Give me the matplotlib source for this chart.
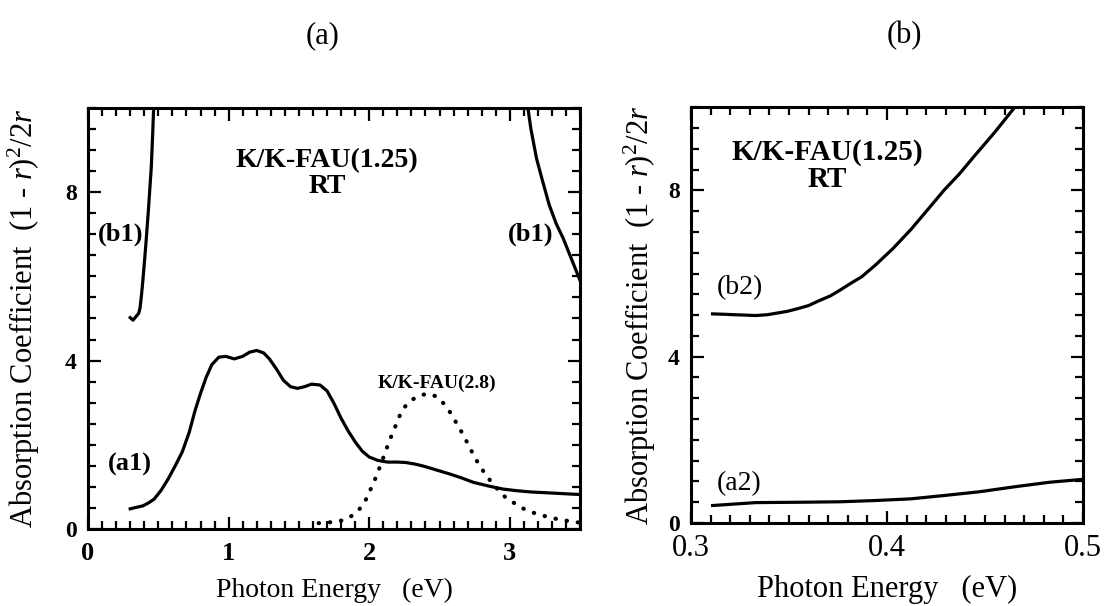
import matplotlib
matplotlib.use("Agg")
import matplotlib.pyplot as plt
from matplotlib.ticker import MultipleLocator

plt.rcParams['font.family'] = ['Liberation Serif', 'DejaVu Serif']
plt.rcParams['mathtext.fontset'] = 'custom'
plt.rcParams['mathtext.rm'] = 'Liberation Serif'
plt.rcParams['mathtext.it'] = 'Liberation Serif:italic'
plt.rcParams['mathtext.bf'] = 'Liberation Serif:bold'

# (a) K/K-FAU(1.25) at RT, wide energy range
a1_energy = [0.30, 0.35, 0.39, 0.43, 0.47, 0.52, 0.57, 0.62, 0.67, 0.72, 0.76, 0.80, 0.84,
             0.88, 0.93, 0.98, 1.04, 1.10, 1.15, 1.20, 1.25, 1.29, 1.34, 1.39, 1.44, 1.49,
             1.54, 1.59, 1.65, 1.70, 1.75, 1.80, 1.85, 1.90, 1.95, 2.00, 2.06, 2.13, 2.20,
             2.26, 2.33, 2.39, 2.48, 2.57, 2.66, 2.74, 2.85, 2.95, 3.05, 3.15, 3.27, 3.38, 3.50]
a1_coef = [0.48, 0.52, 0.55, 0.62, 0.71, 0.92, 1.19, 1.50, 1.83, 2.30, 2.80, 3.22, 3.60,
           3.90, 4.08, 4.10, 4.04, 4.10, 4.20, 4.24, 4.18, 4.04, 3.80, 3.53, 3.38, 3.34,
           3.38, 3.44, 3.42, 3.28, 2.98, 2.63, 2.33, 2.07, 1.85, 1.71, 1.63, 1.59, 1.59,
           1.58, 1.54, 1.49, 1.40, 1.31, 1.21, 1.11, 1.02, 0.95, 0.91, 0.88, 0.86, 0.84, 0.82]

b1_low_energy = [0.30, 0.32, 0.34, 0.36, 0.37, 0.38, 0.39, 0.40, 0.41, 0.42, 0.43, 0.44,
                 0.45, 0.46, 0.47]
b1_low_coef = [5.02, 4.96, 5.04, 5.12, 5.25, 5.55, 5.90, 6.30, 6.70, 7.15, 7.60, 8.10,
               8.60, 9.40, 10.3]

b1_high_energy = [3.12, 3.15, 3.19, 3.23, 3.28, 3.33, 3.38, 3.44, 3.50]
b1_high_coef = [10.2, 9.5, 8.8, 8.3, 7.7, 7.25, 6.9, 6.4, 5.9]

ref_energy = [1.64, 1.72, 1.82, 1.88, 1.93, 1.97, 2.00, 2.04, 2.08, 2.12, 2.16, 2.20, 2.23,
              2.27, 2.31, 2.36, 2.41, 2.45, 2.49, 2.53, 2.57, 2.62, 2.67, 2.72, 2.77, 2.82,
              2.87, 2.92, 2.97, 3.03, 3.08, 3.14, 3.20, 3.28, 3.36, 3.50]
ref_coef = [0.14, 0.16, 0.21, 0.32, 0.47, 0.65, 0.87, 1.17, 1.51, 1.88, 2.23, 2.55, 2.80,
            2.97, 3.08, 3.17, 3.21, 3.19, 3.12, 2.98, 2.80, 2.52, 2.23, 1.90, 1.59, 1.33,
            1.11, 0.92, 0.75, 0.62, 0.51, 0.42, 0.35, 0.28, 0.22, 0.15]

# (b) the same sample, low energy region
b2_energy = [0.311, 0.317, 0.322, 0.328, 0.333, 0.339, 0.344, 0.349, 0.354, 0.360, 0.365,
             0.371, 0.376, 0.381, 0.387, 0.394, 0.403, 0.412, 0.421, 0.429, 0.437, 0.445,
             0.455, 0.466]
b2_coef = [5.03, 5.02, 5.01, 5.00, 4.99, 5.01, 5.05, 5.09, 5.15, 5.23, 5.34, 5.46, 5.60,
           5.75, 5.92, 6.20, 6.60, 7.05, 7.55, 8.00, 8.40, 8.85, 9.40, 10.05]

a2_energy = [0.311, 0.333, 0.358, 0.376, 0.394, 0.412, 0.429, 0.447, 0.465, 0.483, 0.500]
a2_coef = [0.42, 0.49, 0.50, 0.51, 0.54, 0.58, 0.66, 0.75, 0.87, 0.98, 1.05]

ylabel = r'Absorption Coefficient  (1 - $\mathit{r}$)$^2$/2$\mathit{r}$'
xlabel = 'Photon Energy   (eV)'
sample_label = 'K/K-FAU(1.25)\nRT'


def style_axes(ax, xmajor, xminor, xlabel_size):
    ax.set_ylim(0, 10)
    ax.xaxis.set_major_locator(MultipleLocator(xmajor))
    ax.xaxis.set_minor_locator(MultipleLocator(xminor))
    ax.yaxis.set_major_locator(MultipleLocator(4))
    ax.yaxis.set_minor_locator(MultipleLocator(0.5))
    for spine in ax.spines.values():
        spine.set_linewidth(2.2)
    ax.tick_params(which='both', direction='in', top=True, right=True, width=1.6)
    ax.tick_params(which='major', length=9)
    ax.tick_params(which='minor', length=6)
    ax.tick_params(axis='y', labelsize=17, pad=8)
    for lab in ax.get_yticklabels():
        lab.set_fontweight('bold')
    ax.set_ylabel(ylabel, fontsize=22, va='center')
    ax.yaxis.set_label_coords(-0.13, 0.5)
    ax.set_xlabel(xlabel, fontsize=xlabel_size)
    ax.xaxis.label.set_va('center')


fig = plt.figure(figsize=(11.06, 6.06), dpi=100)
ax1 = fig.add_axes([0.0796, 0.127, 0.4449, 0.695])
ax2 = fig.add_axes([0.6248, 0.137, 0.3544, 0.686])

# left panel
ax1.plot(a1_energy, a1_coef, color='black', lw=2.3)
ax1.plot(b1_low_energy, b1_low_coef, color='black', lw=2.3)
ax1.plot(b1_high_energy, b1_high_coef, color='black', lw=2.3)
ax1.plot(ref_energy, ref_coef, color='black', lw=3.0, linestyle=(0, (0.1, 2.6)),
         dash_capstyle='round')
ax1.set_xlim(0, 3.5)
style_axes(ax1, 1, 0.1, 20)
ax1.set_xticks([0, 1, 2, 3])
ax1.tick_params(axis='x', labelsize=19, pad=9)
for lab in ax1.get_xticklabels():
    lab.set_fontweight('bold')
ax1.xaxis.set_label_coords(0.5, -0.146)

ax1.text(1.70, 8.45, sample_label, fontsize=20, fontweight='bold', ha='center',
         va='center', multialignment='center', linespacing=1.05)
ax1.text(0.07, 7.0, '(b1)', fontsize=19, fontweight='bold', ha='left', va='center')
ax1.text(3.31, 7.0, '(b1)', fontsize=19, fontweight='bold', ha='right', va='center')
ax1.text(0.14, 1.53, '(a1)', fontsize=19, fontweight='bold', ha='left', va='center')
ax1.text(2.48, 3.45, 'K/K-FAU(2.8)', fontsize=14, fontweight='bold', ha='center', va='center')

# right panel
ax2.plot(b2_energy, b2_coef, color='black', lw=2.3)
ax2.plot(a2_energy, a2_coef, color='black', lw=2.3)
ax2.set_xlim(0.3, 0.5)
style_axes(ax2, 0.1, 0.01, 22)
ax2.set_xticks([0.3, 0.4, 0.5])
ax2.set_xticklabels(['0.3', '0.4', '0.5'])
ax2.tick_params(axis='x', labelsize=22, pad=8)
ax2.xaxis.set_label_coords(0.5, -0.16)

ax2.text(0.3695, 8.58, sample_label, fontsize=21, fontweight='bold', ha='center',
         va='center', multialignment='center', linespacing=1.0)
ax2.text(0.313, 5.67, '(b2)', fontsize=20, ha='left', va='center')
ax2.text(0.313, 0.94, '(a2)', fontsize=20, ha='left', va='center')

fig.text(323 / 1106, 1 - 36 / 606, '(a)', fontsize=22, ha='center', va='center')
fig.text(904 / 1106, 1 - 36 / 606, '(b)', fontsize=22, ha='center', va='center')

fig.savefig('out.png', dpi=100)
